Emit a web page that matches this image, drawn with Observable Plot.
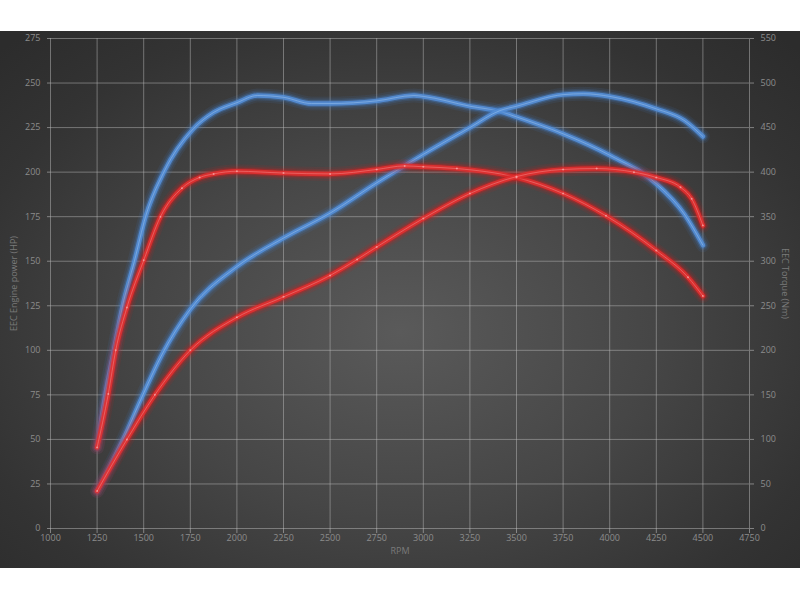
<!DOCTYPE html>
<html>
<head>
<meta charset="utf-8">
<script src="https://cdn.jsdelivr.net/npm/d3@7"></script>
<script src="https://cdn.jsdelivr.net/npm/@observablehq/plot@0.6"></script>
<style>
  html, body { margin: 0; padding: 0; background: #ffffff; }
  #wrap { width: 800px; height: 600px; position: relative; background: #fff; }
  #chart {
    position: absolute; left: 0; top: 31px; width: 800px; height: 537px;
    background: radial-gradient(ellipse 70% 75% at 50% 56%, #5a5a5a 0%, #464646 45%, #333333 80%, #2c2c2c 100%);
  }
  #chart svg { display: block; }
</style>
</head>
<body>
<div id="wrap"><div id="chart"></div></div>
<script>
// ---- Data ----
const rpmTicks = [1000,1250,1500,1750,2000,2250,2500,2750,3000,3250,3500,3750,4000,4250,4500,4750];
const hpTicks = [0,25,50,75,100,125,150,175,200,225,250,275];
const nmTicks = [0,50,100,150,200,250,300,350,400,450,500,550];

// Blue power (HP, left axis)
const bluePowerRpm = [1250,1390,1500,1600,1750,2000,2250,2500,2750,3000,3250,3410,3500,3750,3860,4000,4250,4400,4500];
const bluePowerHp  = [21,50,76,98,123,147,163,177,194,210,225,234.5,237,243.5,244,242.5,235.5,229,220];

// Red power (HP, left axis)
const redPowerRpm = [1250,1410,1560,1750,2000,2250,2500,2645,2750,3000,3250,3500,3750,3930,4130,4250,4380,4440,4500];
const redPowerHp  = [21,50,75,100,118.5,130,142,151,158,174,188,197.5,201.5,202,200,197,191.5,185,170];

// Blue torque (Nm, right axis)
const blueTorqueRpm = [1250,1295,1340,1385,1450,1510,1608,1768,1875,2000,2110,2250,2400,2500,2750,2950,3000,3250,3414,3500,3750,4000,4250,4400,4500];
const blueTorqueNm  = [91,151,200,248,300,350,400,449,467,478,486,484,477,477,480,486,485,474,468,462,443,419,387,353,318];

// Red torque (Nm, right axis)
const redTorqueRpm = [1250,1310,1350,1410,1500,1590,1705,1800,1875,2000,2250,2500,2750,2900,3000,3180,3500,3750,3980,4250,4420,4500];
const redTorqueNm  = [91,151,200,248,301,350,382,394,398,401,399,398,403,407,406,404,394,376,351,312,282,261];

// ---- Build tables ----
const zip = (xs, ys) => xs.map((x, i) => ({rpm: x, v: ys[i]}));
const bluePower = zip(bluePowerRpm, bluePowerHp);
const redPower = zip(redPowerRpm, redPowerHp);
const blueTorque = zip(blueTorqueRpm, blueTorqueNm);
const redTorque = zip(redTorqueRpm, redTorqueNm);

const NM_PER_HP = 2; // right axis 0..550 maps to left axis 0..275
const hpY = d => d.v;
const nmY = d => d.v / NM_PER_HP;

const BLUE = "#4580cc", BLUE_CORE = "#5590d8", BLUE_HI = "#a6cbf3";
const RED = "#d41e1e", RED_CORE = "#e23030", RED_HI = "#ff9494";

function glowLine(data, y, color, core, hi) {
  const base = {x: "rpm", y, curve: "monotone-x", strokeLinecap: "round", strokeLinejoin: "round"};
  return [
    Plot.line(data, {...base, stroke: color, strokeWidth: 14, strokeOpacity: 0.10}),
    Plot.line(data, {...base, stroke: color, strokeWidth: 10, strokeOpacity: 0.16}),
    Plot.line(data, {...base, stroke: color, strokeWidth: 7, strokeOpacity: 0.35}),
    Plot.line(data, {...base, stroke: core, strokeWidth: 4.5, strokeOpacity: 0.88}),
    Plot.line(data, {...base, stroke: hi, strokeWidth: 1, strokeOpacity: 0.45})
  ];
}

const GRID = "#b8b8b8";
const TXT = "#8c8c8c";

const plot = Plot.plot({
  width: 800,
  height: 537,
  marginLeft: 50,
  marginRight: 51,
  marginTop: 7,
  marginBottom: 40,
  style: {background: "transparent", color: TXT, fontSize: "9px", fontFamily: "'Open Sans', sans-serif", overflow: "visible"},
  x: {domain: [1000, 4750]},
  y: {domain: [0, 275]},
  marks: [
    Plot.gridX(rpmTicks, {stroke: GRID, strokeOpacity: 0.5, strokeWidth: 1}),
    Plot.gridY(hpTicks, {stroke: GRID, strokeOpacity: 0.5, strokeWidth: 1}),
    Plot.axisX(rpmTicks, {tickSize: 5, tickPadding: 1, stroke: GRID, strokeOpacity: 0.6, label: null, fill: TXT, tickFormat: d => String(d)}),
    Plot.axisY(hpTicks, {anchor: "left", tickSize: 3, tickPadding: 7, stroke: GRID, strokeOpacity: 0.6, label: null, fill: TXT, tickFormat: d => String(d)}),
    Plot.axisY(nmTicks.map(n => n / NM_PER_HP), {anchor: "right", tickSize: 4, tickPadding: 7, stroke: GRID, strokeOpacity: 0.6, label: null, fill: TXT, tickFormat: d => String(d * NM_PER_HP)}),
    ...glowLine(blueTorque, nmY, BLUE, BLUE_CORE, BLUE_HI),
    ...glowLine(bluePower, hpY, BLUE, BLUE_CORE, BLUE_HI),
    ...glowLine(redTorque, nmY, RED, RED_CORE, RED_HI),
    ...glowLine(redPower, hpY, RED, RED_CORE, RED_HI),
    Plot.dot(redTorque, {x: "rpm", y: nmY, r: 1, fill: "#ffc0c0", fillOpacity: 0.6}),
    Plot.dot(redPower, {x: "rpm", y: hpY, r: 1, fill: "#ffc0c0", fillOpacity: 0.6}),
    Plot.text(["EEC Engine power (HP)"], {frameAnchor: "left", textAnchor: "middle", dx: -36, rotate: -90, fill: "#7a7a7a", fontSize: 9}),
    Plot.text(["EEC Torque (Nm)"], {frameAnchor: "right", textAnchor: "middle", dx: 35, rotate: 90, fill: "#7a7a7a", fontSize: 9}),
    Plot.text(["RPM"], {frameAnchor: "bottom", dy: 25, fill: "#7a7a7a", fontSize: 9})
  ]
});

document.getElementById("chart").appendChild(plot);
</script>
</body>
</html>
